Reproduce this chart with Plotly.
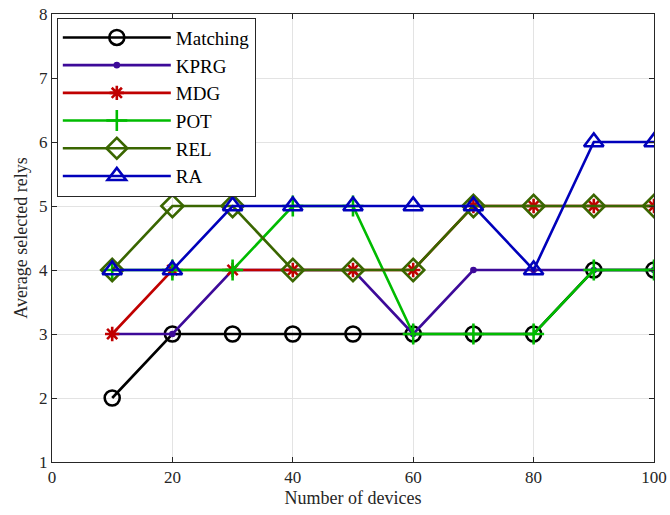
import plotly.graph_objects as go

devices = [10, 20, 30, 40, 50, 60, 70, 80, 90, 100]
matching = [2, 3, 3, 3, 3, 3, 3, 3, 4, 4]
kprg = [3, 3, 4, 4, 4, 3, 4, 4, 4, 4]
mdg = [3, 4, 4, 4, 4, 4, 5, 5, 5, 5]
pot = [4, 4, 4, 5, 5, 3, 3, 3, 4, 4]
rel = [4, 5, 5, 4, 4, 4, 5, 5, 5, 5]
ra = [4, 4, 5, 5, 5, 5, 5, 4, 6, 6]

series = [
    ("Matching", matching, "#000000", "circle-open", 15),
    ("KPRG", kprg, "#3d0a99", "circle", 4),
    ("MDG", mdg, "#c00000", "asterisk-open", 12),
    ("POT", pot, "#00bb00", "cross-thin-open", 15),
    ("REL", rel, "#3a6600", "diamond-open", 17),
    ("RA", ra, "#0000bb", "triangle-up-open", 17),
]

FONT = "'Liberation Serif', 'DejaVu Serif', serif"
fig = go.Figure()
for name, vals, color, sym, size in series:
    fig.add_trace(go.Scatter(
        x=devices, y=vals, name=name, mode="lines+markers", legendgroup=name,
        line=dict(color=color, width=2.6),
        marker=dict(symbol=sym, size=size, color=color,
                    line=dict(color=color, width=2.6)),
    ))

axis_common = dict(
    showline=True, linecolor="#262626", linewidth=1, mirror="ticks",
    ticks="inside", ticklen=5, tickcolor="#262626", automargin=False,
    showgrid=True, gridcolor="#e3e3e3", gridwidth=1, zeroline=False,
    tickfont=dict(family=FONT, size=17, color="#262626"),
)
fig.update_xaxes(range=[0, 100], tickvals=[0, 20, 40, 60, 80, 100],
                 title=dict(text="Number of devices", font=dict(family=FONT, size=18, color="#262626"), standoff=4),
                 **axis_common)
fig.update_yaxes(range=[1, 8], tickvals=[1, 2, 3, 4, 5, 6, 7, 8],
                 title=dict(text="Average selected relys", font=dict(family=FONT, size=18, color="#262626"), standoff=6),
                 **axis_common)

fig.update_layout(
    width=670, height=515,
    margin=dict(l=52, r=16, t=14, b=53),
    plot_bgcolor="white", paper_bgcolor="white",
    legend=dict(x=0.008, y=0.992, xanchor="left", yanchor="top",
                bgcolor="white", bordercolor="#262626", borderwidth=1,
                font=dict(family=FONT, size=19, color="#000000"),
                tracegroupgap=0, itemwidth=108, traceorder="normal"),
    showlegend=True,
)

fig.write_html("out.html")
